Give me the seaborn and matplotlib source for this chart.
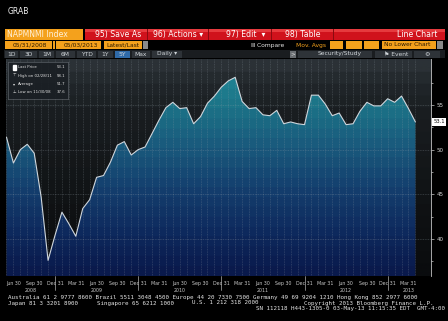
import numpy as np
import pandas as pd
import matplotlib
matplotlib.use("Agg")
import matplotlib.pyplot as plt
import seaborn as sns
from matplotlib.colors import LinearSegmentedColormap
from matplotlib.patches import Rectangle
import matplotlib.transforms as mtransforms

# ---------------- data ----------------
month_index = list(range(60))  # May-2008 .. Apr-2013 month ends
napm_nmi = [51.4, 48.5, 50.0, 50.6, 49.6, 44.7, 37.6, 40.4,
            43.0, 41.7, 40.3, 43.4, 44.4, 46.9, 47.1, 48.6, 50.5, 50.9, 49.4, 50.0,
            50.3, 51.8, 53.3, 54.7, 55.3, 54.6, 54.7, 52.9, 53.7, 55.2, 56.0, 57.0,
            57.7, 58.1, 55.4, 54.6, 54.7, 53.9, 53.8, 54.4, 52.9, 53.1, 52.9, 52.8,
            56.1, 56.1, 55.1, 53.8, 54.1, 52.8, 52.9, 54.3, 55.3, 54.9, 54.9, 55.7,
            55.3, 56.0, 54.6, 53.1]
quarter_pos = list(range(1, 60, 3))
quarter_labels = ["Jun 30", "Sep 30", "Dec 31", "Mar 31"] * 5
year_div_pos = [7, 19, 31, 43, 55]
year_labels = ["2008", "2009", "2010", "2011", "2012", "2013"]
year_label_pos = [3.5, 13, 25, 37, 49, 58]
y_ticks = [40, 45, 50, 55]
y_minor = [37.5, 42.5, 47.5, 52.5, 57.5]
legend_rows = [("Last Price", "53.1"), ("High on 02/28/11", "58.1"),
               ("Average", "51.7"), ("Low on 11/30/08", "37.6")]

df = pd.DataFrame({"m": month_index, "v": napm_nmi})

W, H = 448, 321
sns.set_theme(style="dark")
plt.rcParams['font.family'] = ['DejaVu Sans']
fig = plt.figure(figsize=(W / 100, H / 100), dpi=100, facecolor="black")

def fx(x): return x / W
def fy(y): return 1 - y / H

def rect(x0, y0, x1, y1, color, z=1, **kw):
    fig.patches.append(Rectangle((fx(x0), fy(y1)), (x1 - x0) / W, (y1 - y0) / H,
                                 transform=fig.transFigure, facecolor=color,
                                 edgecolor=kw.pop("ec", "none"), lw=kw.pop("lw", 0.5),
                                 zorder=z, **kw))

def text(x, y, s, **kw):
    kw.setdefault("va", "center")
    kw.setdefault("color", "white")
    kw.setdefault("fontsize", 5.2)
    fig.text(fx(x), fy(y), s, **kw)

# ---------------- axes ----------------
XL = (-0.07, 61.25)
YL = (35.85, 60.15)
ax = fig.add_axes([fx(6), fy(276), (431 - 6) / W, (276 - 59) / H])
ax.set_facecolor("#111416")

bg_cmap = LinearSegmentedColormap.from_list(
    "bg", [(0, "#0a0c0e"), (0.35, "#101315"), (0.75, "#191d20"), (0.9, "#20262a"), (1, "#2b3136")], N=18)
fill_cmap = LinearSegmentedColormap.from_list(
    "fill", [(0, "#0a1a4c"), (0.2, "#0e2a5e"), (0.4, "#143f6e"), (0.6, "#19597c"),
             (0.8, "#1c7488"), (1, "#208a98")], N=22)
grad = np.linspace(0, 1, 256).reshape(-1, 1)
ax.imshow(grad, extent=[XL[0], XL[1], YL[0], YL[1]], origin="lower",
          aspect="auto", cmap=bg_cmap, zorder=0)

poly = ax.fill_between(df["m"], df["v"], YL[0], color="none", lw=0)
im = ax.imshow(grad, extent=[XL[0], XL[1], YL[0], YL[1]], origin="lower",
               aspect="auto", cmap=fill_cmap, zorder=1)
im.set_clip_path(poly.get_paths()[0], transform=ax.transData)

sns.lineplot(data=df, x="m", y="v", ax=ax, color="#cfd6dc", lw=0.8, zorder=3)

ax.set_xlim(*XL)
ax.set_ylim(*YL)
ax.set_xlabel("")
ax.set_ylabel("")

# grid
ax.set_xticks(quarter_pos)
ax.set_xticklabels(quarter_labels)
ax.set_xticks(month_index, minor=True)
ax.grid(which="both", axis="x", color="#9aa4ac", lw=0.4, ls=(0, (1.5, 1.5)), alpha=0.45, zorder=2)
ax.set_yticks(y_ticks)
ax.set_yticklabels([str(t) for t in y_ticks])
ax.set_yticks(y_minor, minor=True)
ax.grid(which="major", axis="y", color="#9aa4ac", lw=0.4, ls=(0, (1.5, 1.5)), alpha=0.5, zorder=2)
ax.set_axisbelow(False)
for g in ax.get_xgridlines() + ax.get_ygridlines():
    g.set_zorder(2)

ax.yaxis.tick_right()
ax.tick_params(axis="y", which="major", length=2.5, width=0.5, color="#c8c8c8",
               labelsize=4, labelcolor="#d8d8d8", pad=1.5, right=True, left=False)
ax.tick_params(axis="y", which="minor", length=1.5, width=0.5, color="#c8c8c8", right=True, left=False)
ax.tick_params(axis="x", which="both", length=0, labelsize=3.4, labelcolor="#c8c8c8", pad=3.5)
for s in ["top", "left", "bottom"]:
    ax.spines[s].set_visible(False)
ax.spines["right"].set_color("#c0c0c0")
ax.spines["right"].set_linewidth(0.6)

# year dividers + labels under the axis
tr = mtransforms.blended_transform_factory(ax.transData, ax.transAxes)
for xp in year_div_pos:
    ax.plot([xp, xp], [0, -0.065], transform=tr, color="#b0b0b0", lw=0.5, clip_on=False)
for xp, lab in zip(year_label_pos, year_labels):
    ax.text(xp, -0.055, lab, transform=tr, ha="center", va="top", fontsize=3.4, color="#c8c8c8")

# last price tag
tr2 = mtransforms.blended_transform_factory(ax.transAxes, ax.transData)
ax.text(1.006, napm_nmi[-1], legend_rows[0][1], transform=tr2, ha="left", va="center",
        fontsize=3.8, color="#101010",
        bbox=dict(boxstyle="square,pad=0.25", fc="white", ec="none"))

# legend box
legax = fig.add_axes([fx(8), fy(99), 60 / W, 37 / H])
legax.set_xlim(0, 60); legax.set_ylim(37, 0)
legax.set_facecolor((0.10, 0.12, 0.14, 0.9))
for s in legax.spines.values():
    s.set_color("#5a6066"); s.set_linewidth(0.5)
legax.set_xticks([]); legax.set_yticks([])
for i, (lab, val) in enumerate(legend_rows):
    yy = 5.5 + i * 8.2
    legax.text(10, yy, lab, fontsize=2.8, color="#e0e0e0", va="center")
    legax.text(57, yy, val, fontsize=2.8, color="#e0e0e0", va="center", ha="right")
legax.add_patch(Rectangle((4.5, 3.3), 3.5, 4.4, color="white"))
legax.text(6.5, 5.5 + 8.2, "\u22a4", fontsize=3.0, color="#e0e0e0", va="center", ha="center")
legax.text(6.5, 5.5 + 16.4, "\u25be", fontsize=3.0, color="#e0e0e0", va="center", ha="center")
legax.text(6.5, 5.5 + 24.6, "\u22a5", fontsize=3.0, color="#e0e0e0", va="center", ha="center")

# ---------------- Bloomberg chrome ----------------
text(8, 11, "GRAB", fontsize=5.5, color="#f0f0f0")

orange = "#f4a11c"
# row 1
rect(5, 29, 83, 40, orange)
text(7, 34.5, "NAPMNMI Index", fontsize=5.6, color="#fff0d8")
rect(85, 29, 445, 40, "#d0121c")
rect(85, 29, 445, 32, "#e63a3e")
for xs in [147, 208, 271, 333]:
    rect(xs, 29, xs + 1, 40, "#8a0a10", z=2)
text(95, 34.5, "95) Save As", fontsize=5.6)
text(153, 34.5, "96) Actions \u25be", fontsize=5.6)
text(226, 34.5, "97) Edit  \u25be", fontsize=5.6)
text(285, 34.5, "98) Table", fontsize=5.6)
text(437, 34.5, "Line Chart", fontsize=5.6, ha="right")

# row 2
rect(5, 41, 52, 49, orange); text(13, 45, "05/31/2008", fontsize=4.3, color="#2a1800")
rect(53, 41, 55, 49, orange)
rect(56, 41, 101, 49, orange); text(64, 45, "05/03/2013", fontsize=4.3, color="#2a1800")
rect(104, 41, 142, 49, orange); text(106, 45, "Latest/Last", fontsize=4.3, color="#2a1800")
rect(143, 41, 148, 49, "#8a8a8a")
text(251, 45, "\u2162 Compare", fontsize=4.3, color="#e8e8e8")
text(296, 45, "Mov. Avgs", fontsize=4.3, color=orange)
rect(330, 41, 343, 49, orange)
rect(346, 41, 362, 49, orange)
rect(364, 41, 379, 49, orange)
rect(382, 41, 436, 49, orange); text(384, 45, "No Lower Chart", fontsize=4.3, color="#2a1800")
rect(437, 41, 443, 49, "#8a8a8a")

# row 3
rect(4, 50, 445, 58, "#1a1d20")
btns = [("1D", 5, 18), ("3D", 20, 37), ("1M", 39, 54), ("6M", 56, 75), ("YTD", 77, 96),
        ("1Y", 98, 113), ("5Y", 115, 130), ("Max", 132, 150), ("Daily \u25be", 152, 182)]
for lab, a, b in btns:
    col = "#2f6aa8" if lab == "5Y" else "#2e3338"
    rect(a, 50.5, b, 57.5, col)
    text((a + b) / 2, 54, lab, fontsize=4.3, color="#cfd4d8", ha="center")
rect(290, 50.5, 296, 57.5, "#6a6e72"); text(293, 54, ">", fontsize=4, color="#e0e0e0", ha="center")
rect(298, 50.5, 372, 57.5, "#2e3338")
text(318, 54, "Security/Study", fontsize=4.3, color="#cfd4d8")
rect(375, 50.5, 412, 57.5, "#2e3338")
text(384, 54, "\u2691 Event", fontsize=4.3, color="#cfd4d8")
rect(414, 50.5, 440, 57.5, "#2e3338")
text(427, 54, "\u2699", fontsize=4.5, color="#cfd4d8", ha="center")

# footer
mono = dict(family="DejaVu Sans Mono", fontsize=4.2, color="#e4e4e4")
text(8, 297.5, "Australia 61 2 9777 8600 Brazil 5511 3048 4500 Europe 44 20 7330 7500 "
     "Germany 49 69 9204 1210 Hong Kong 852 2977 6000", **mono)
text(8, 303, "Japan 81 3 3201 8900", **mono)
text(97, 303, "Singapore 65 6212 1000", **mono)
text(192, 303, "U.S. 1 212 318 2000", **mono)
text(433, 303, "Copyright 2013 Bloomberg Finance L.P.", ha="right", **mono)
text(445, 308.5, "SN 112118 H443-1305-0 03-May-13 11:15:35 EDT  GMT-4:00", ha="right", **mono)

fig.savefig("out.png", dpi=100, facecolor="black")
